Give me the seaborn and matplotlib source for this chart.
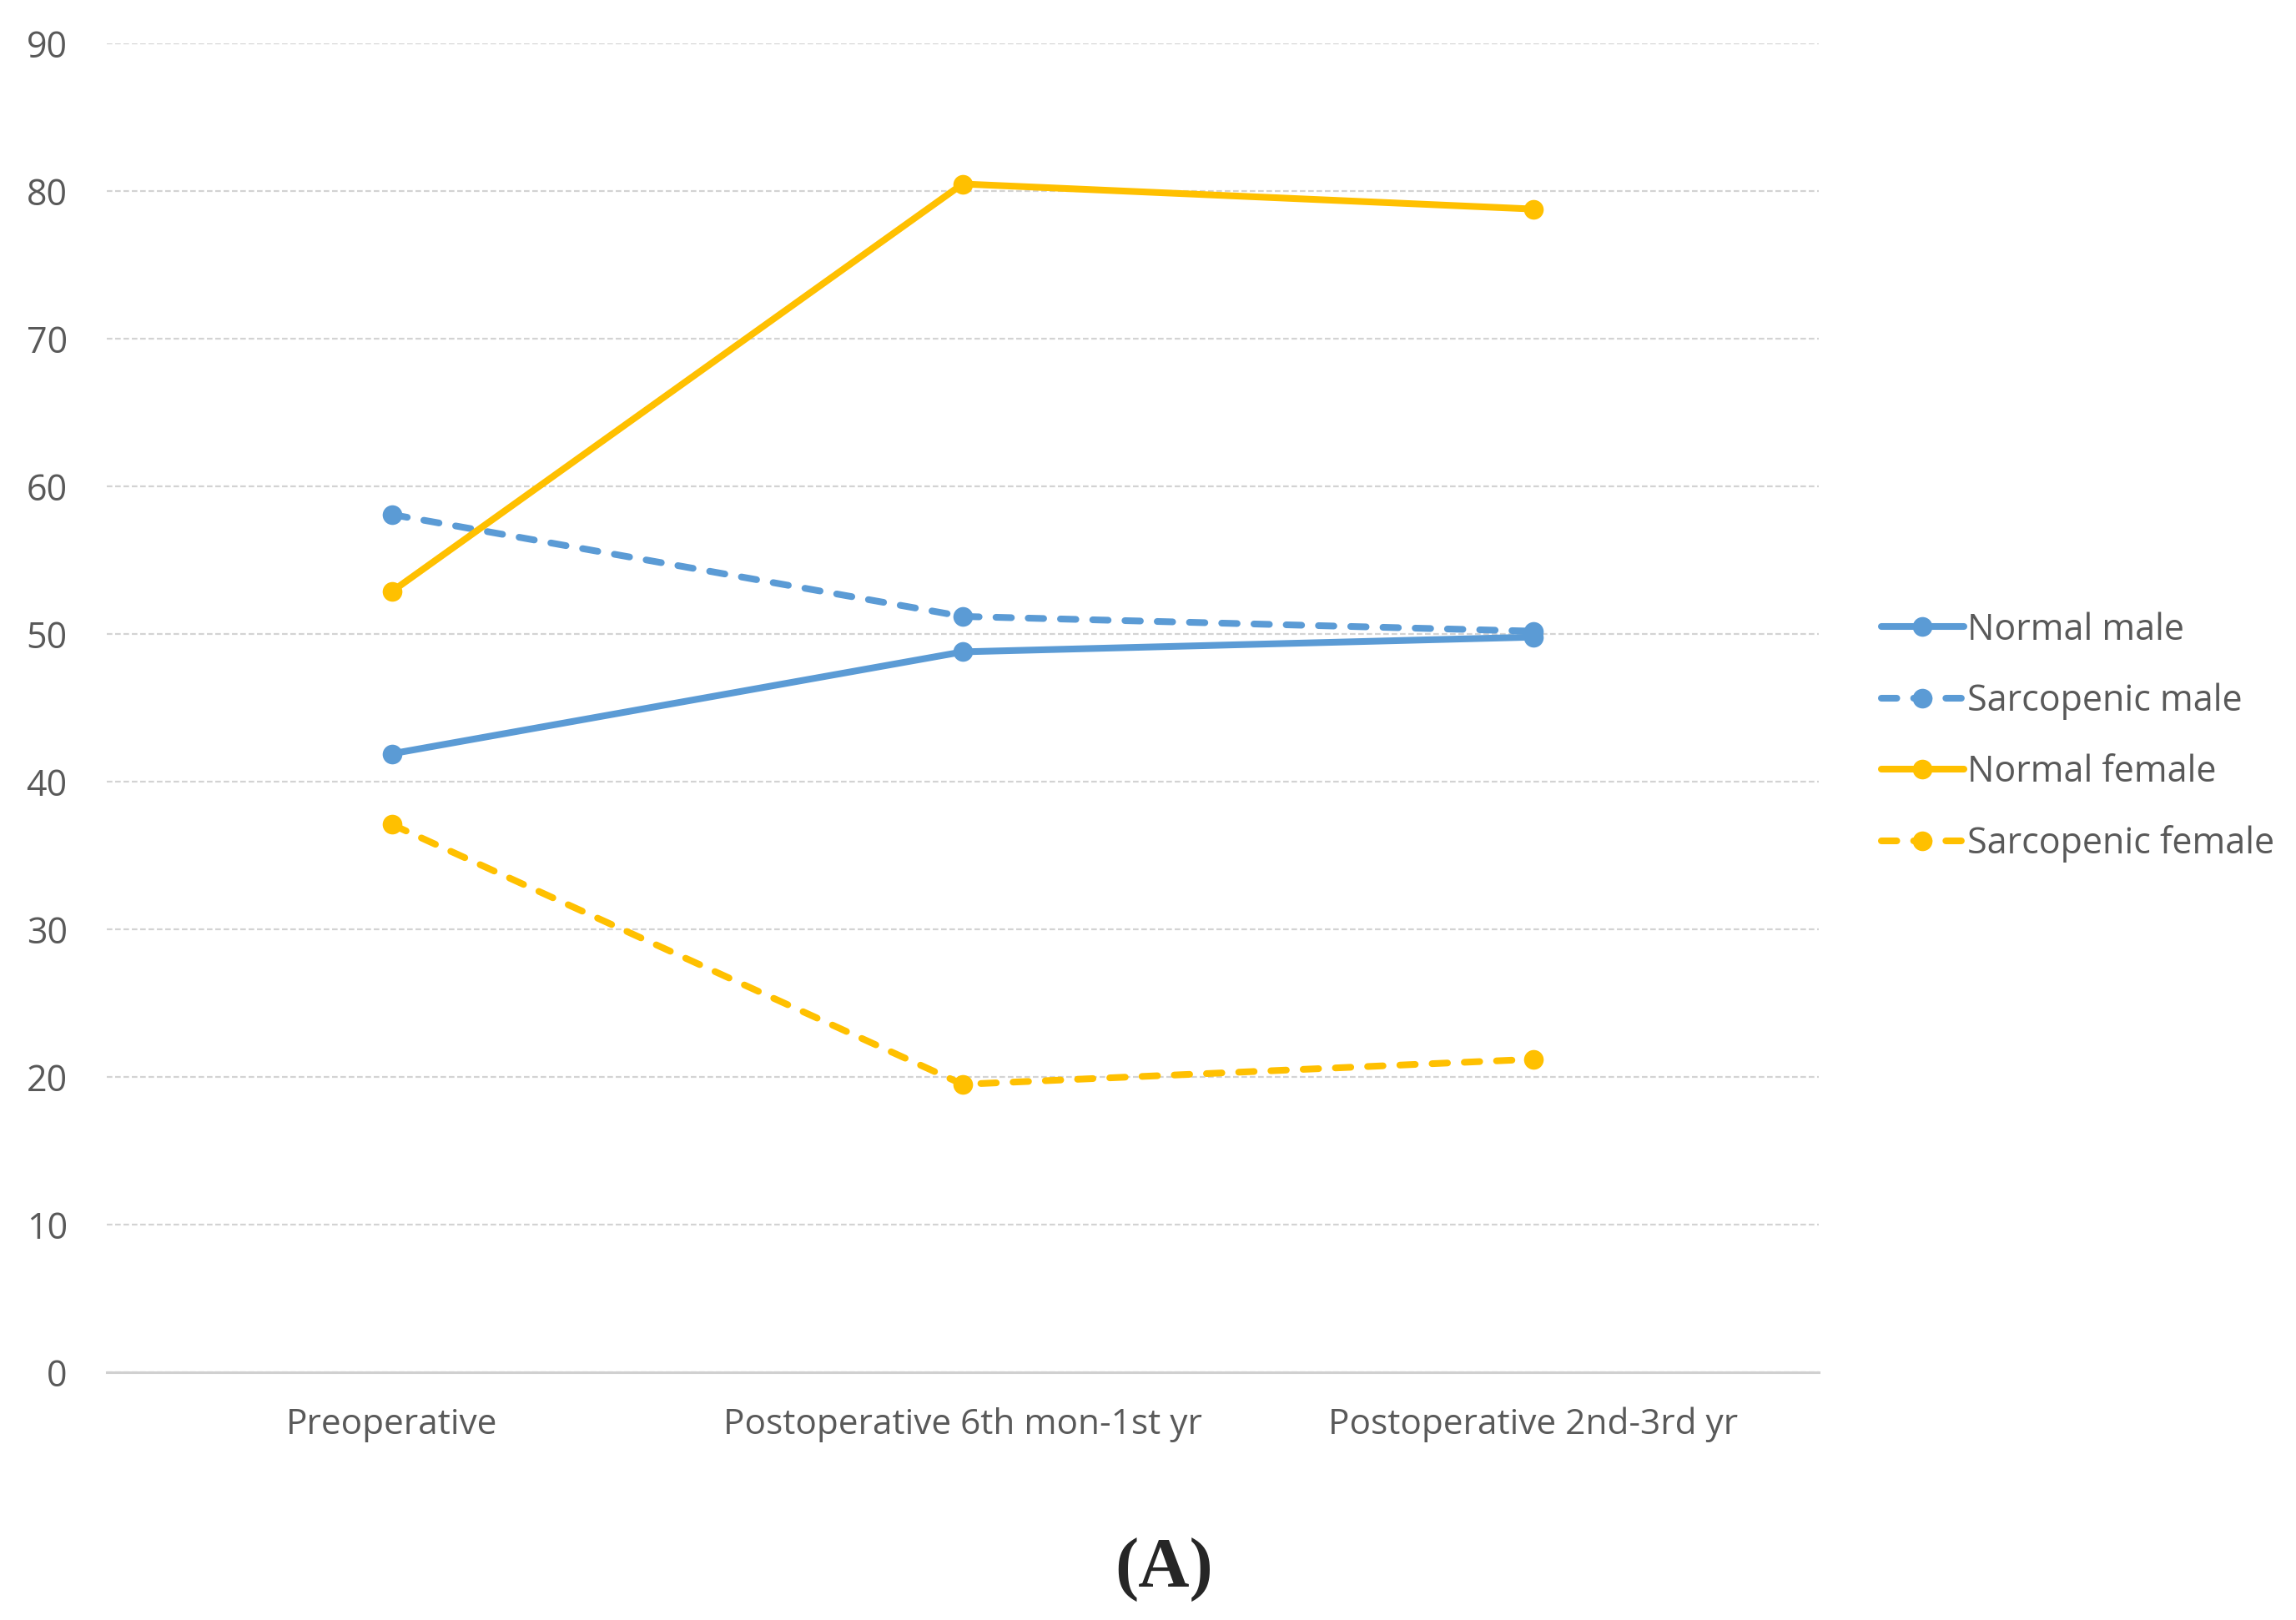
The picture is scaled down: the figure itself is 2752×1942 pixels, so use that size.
import numpy as np
import pandas as pd
import seaborn as sns
import matplotlib.pyplot as plt

# values
periods = ["Preoperative", "Postoperative 6th mon-1st yr", "Postoperative 2nd-3rd yr"]
groups = ["Normal male", "Sarcopenic male", "Normal female", "Sarcopenic female"]
normal_male = [41.9, 48.8, 49.8]
sarcopenic_male = [58.1, 51.2, 50.2]
normal_female = [52.9, 80.5, 78.8]
sarcopenic_female = [37.1, 19.5, 21.2]

blue = "#5B9BD5"
gold = "#FFC000"

rows = []
for name, vals in zip(groups, [normal_male, sarcopenic_male, normal_female, sarcopenic_female]):
    for i, v in enumerate(vals):
        rows.append({"period": i, "value": v, "group": name})
df = pd.DataFrame(rows)

sns.set_style("white")
plt.rcParams["font.family"] = ["Open Sans", "DejaVu Sans"]

fig = plt.figure(figsize=(27.52, 19.42), dpi=100)
ax = fig.add_axes([0.0465, 0.153, 0.7455, 0.82])

palette = {"Normal male": blue, "Sarcopenic male": blue,
           "Normal female": gold, "Sarcopenic female": gold}
dashes = {"Normal male": "", "Sarcopenic male": (2.3, 2.5),
          "Normal female": "", "Sarcopenic female": (2.3, 2.5)}

sns.lineplot(data=df, x="period", y="value", hue="group", style="group",
             hue_order=groups, style_order=groups, palette=palette, dashes=dashes,
             markers={g: "o" for g in groups}, markersize=17, markeredgewidth=0,
             linewidth=5.8, dash_capstyle="round", solid_capstyle="round",
             ax=ax, legend="full")

ax.set_xlim(-0.5, 2.5)
ax.set_ylim(0, 90)
ax.set_yticks(np.arange(0, 91, 10))
ax.set_xticks(range(3))
ax.set_xticklabels(periods)
ax.set_xticks([-0.5, 0.5, 1.5, 2.5], minor=True)
ax.set_xlabel("")
ax.set_ylabel("")
ax.grid(axis="y", color="#D3D3D3", linewidth=1.6, linestyle=(0, (3, 1.5)))
ax.set_axisbelow(True)
for s in ["top", "right", "left"]:
    ax.spines[s].set_visible(False)
ax.spines["bottom"].set_color("#D0D0D0")
ax.spines["bottom"].set_linewidth(2.2)
ax.tick_params(axis="y", length=0, labelsize=31, labelcolor="#595959", pad=34)
ax.tick_params(axis="x", which="major", length=0, labelsize=30.5, labelcolor="#595959", pad=30)
ax.tick_params(axis="x", which="minor", length=12, width=1.5, color="#D0D0D0", direction="out")

handles, labels = ax.get_legend_handles_labels()
for h in handles:
    h.set_dash_capstyle("round")
    h.set_solid_capstyle("round")
ax.legend(handles, labels, loc="center left", bbox_to_anchor=(0.813, 0.545),
          bbox_transform=fig.transFigure, frameon=False, fontsize=31,
          labelcolor="#595959", handlelength=2.3, handletextpad=0.1,
          labelspacing=0.95, borderaxespad=0)

fig.text(0.507, 0.031, "(A)", ha="center", va="center", fontsize=61,
         fontweight="bold", family=["Liberation Serif", "DejaVu Serif"])

fig.savefig("out.png", dpi=100)
